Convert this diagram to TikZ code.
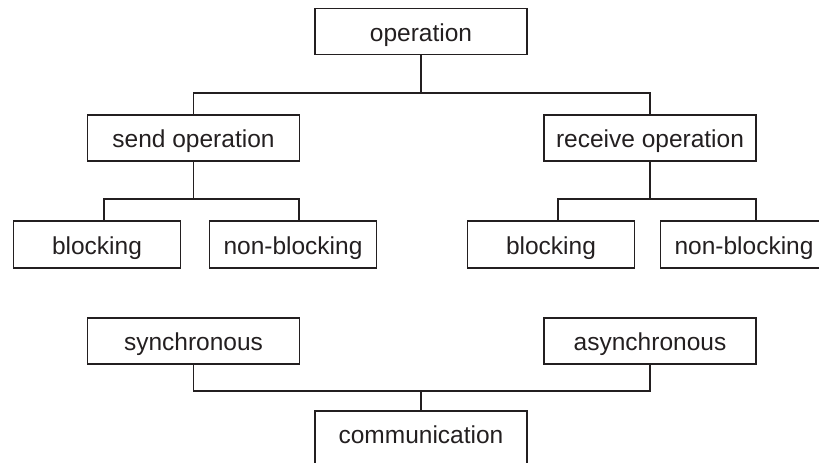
\documentclass[tikz,border=0pt]{standalone}
\usepackage{fontspec}
\setmainfont{Liberation Sans}
\definecolor{ink}{HTML}{231F20}
\begin{document}
\begin{tikzpicture}[x=1pt,y=-1pt,
  label text/.style={text=ink,inner sep=0pt,text height=19pt,text depth=0pt,
    font=\fontsize{24.5}{29}\selectfont},
  box/.style={label text,draw=ink,line width=1.8pt},
  wide/.style={box,minimum width=212pt,minimum height=46pt},
  narrow/.style={box,minimum width=167pt,minimum height=47pt},
  link/.style={draw=ink,line width=1.8pt}]
\useasboundingbox (0,0) rectangle (819,463);
\clip (0,0) rectangle (819,463);

% operation tree
\node[wide] (op)   at (421,31.5)  {operation};
\node[wide] (send) at (193.5,138) {send operation};
\node[wide] (recv) at (650,138)   {receive operation};
\node[narrow] (sb)  at (97,244.5)  {blocking};
\node[narrow] (snb) at (293,244.5) {non-blocking};
\node[narrow] (rb)  at (551,244.5) {blocking};
\node[narrow] (rnb) at (744,244.5) {non-blocking};

% communication tree
\node[wide] (sync)  at (193.5,341) {synchronous};
\node[wide] (async) at (650,341)   {asynchronous};
\node[wide,minimum height=60pt] (comm) at (421,441) {};
\node[label text] (commtext) at (421,434) {communication};

% junction points of the connectors
\coordinate (j1) at (421,93);
\coordinate (j2) at (193.5,199);
\coordinate (j3) at (650,199);
\coordinate (j4) at (421,391);

\draw[link] (op.south) -- (j1);
\draw[link] (send.north) |- (j1) -| (recv.north);
\draw[link] (send.south) -- (j2);
\draw[link] ([xshift=7pt]sb.north) |- (j2) -| ([xshift=6pt]snb.north);
\draw[link] (recv.south) -- (j3);
\draw[link] ([xshift=7pt]rb.north) |- (j3) -| ([xshift=12pt]rnb.north);
\draw[link] (sync.south) |- (j4) -| (async.south);
\draw[link] (comm.north) -- (j4);
\end{tikzpicture}
\end{document}
